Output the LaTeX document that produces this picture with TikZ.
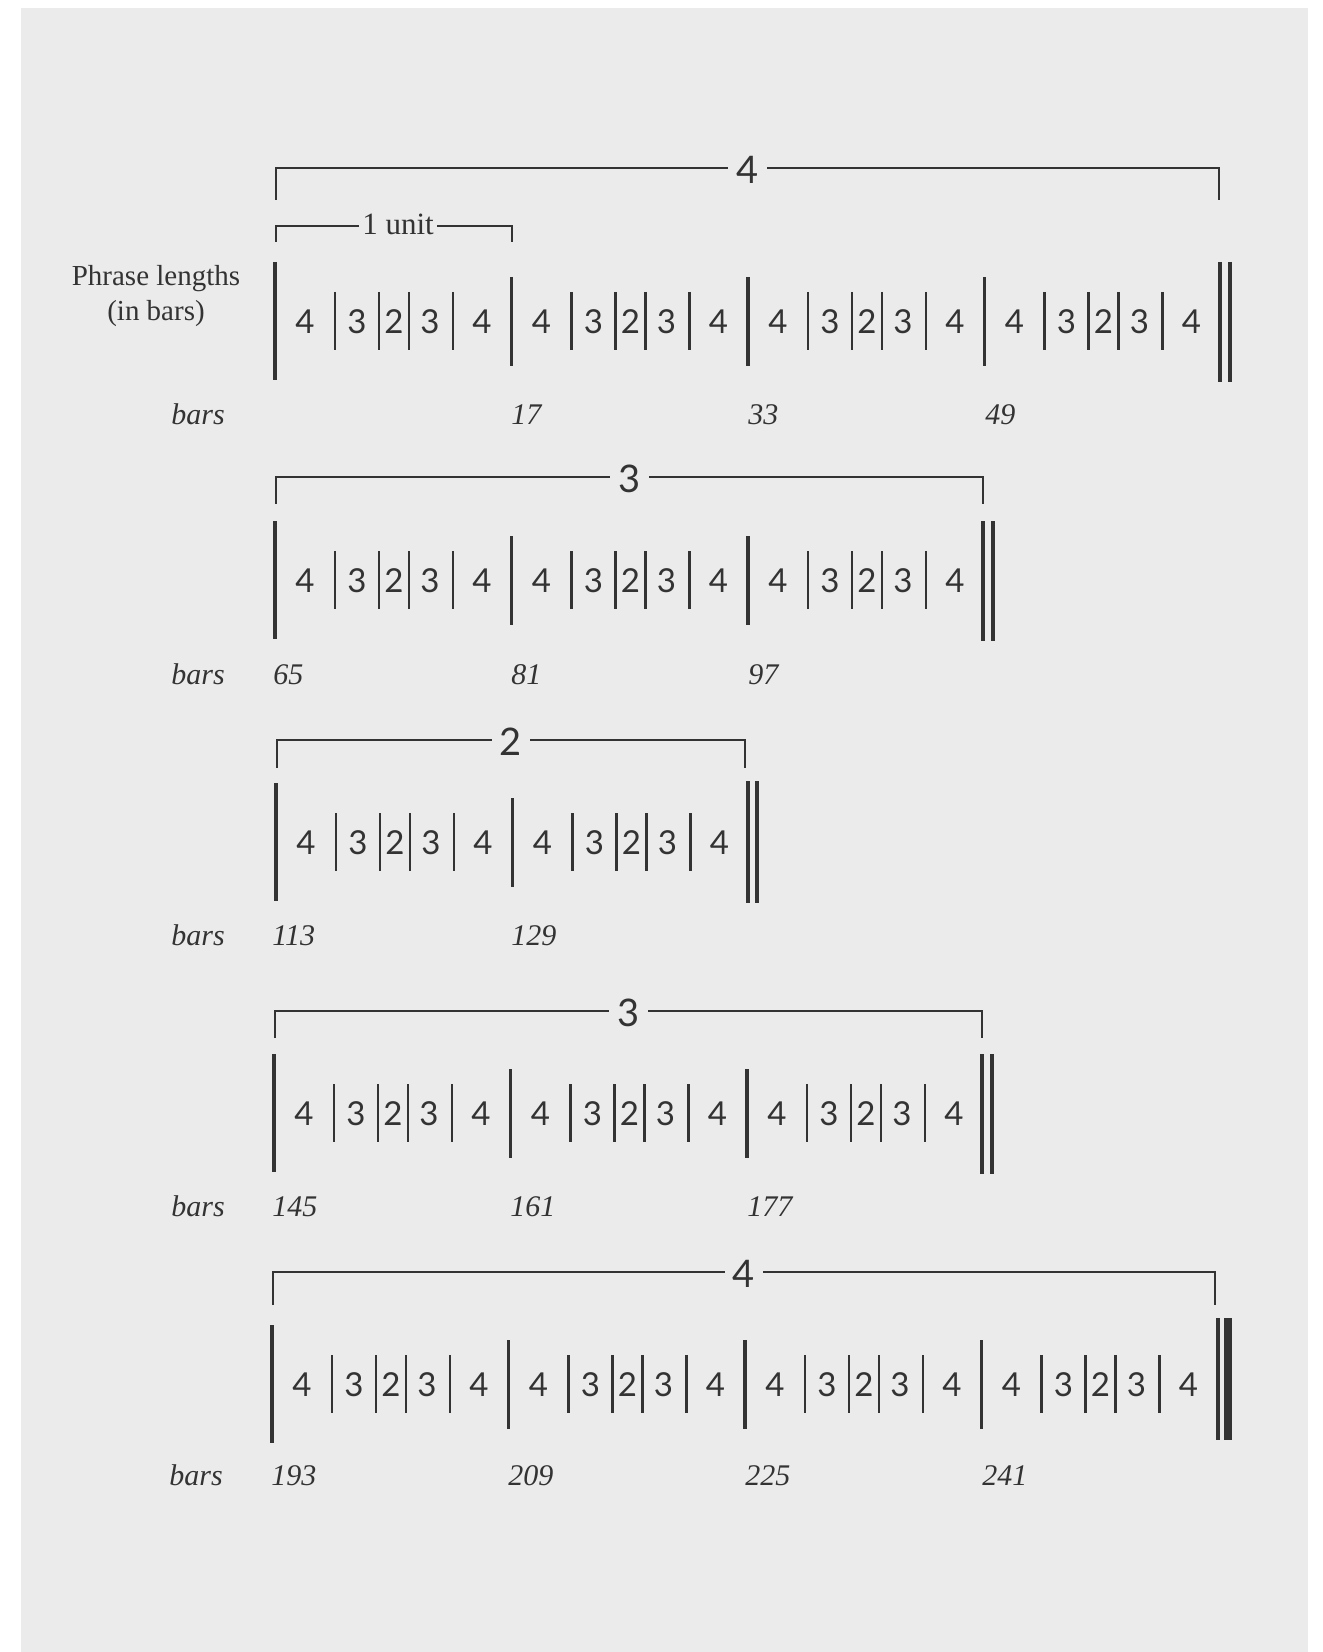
\documentclass[tikz,border=0pt]{standalone}
\usepackage{fontspec}
\setmainfont{Liberation Serif}
\newfontfamily\digfont{Lato}
\definecolor{bg}{HTML}{EBEBEB}
\definecolor{ink}{HTML}{333333}
\newcommand{\phraseunits}[4]{% #1 x origin, #2 centre y, #3 units, #4 id
  \foreach \u in {1,...,#3} {
    \pgfmathsetmacro{\ux}{#1+(\u-1)*236.5}
    \begin{scope}[shift={(\ux,#2)}]
      \ifnum\u=1
        \draw[majorbar] (0,-60) -- (0,58);
      \else
        \draw[majorbar] (0,-45) -- (0,44);
      \fi
      \node[dig] (d#4-\u-a) at (30,0) {4};
      \draw[minorbar] (60,-30) -- (60,28);
      \node[dig] (d#4-\u-b) at (82,0) {3};
      \draw[minorbar] (104,-30) -- (104,28);
      \node[dig] (d#4-\u-c) at (119,0) {2};
      \draw[minorbar] (134,-30) -- (134,28);
      \node[dig] (d#4-\u-d) at (155,0) {3};
      \draw[minorbar] (178,-30) -- (178,28);
      \node[dig] (d#4-\u-e) at (207,0) {4};
    \end{scope}
  }
}
\newcommand{\phrasebracket}[7]{% #1 x0, #2 x1, #3 top y, #4 tick, #5 label, #6 name, #7 style
  \draw[bracketline] (#1,#3+#4) -- (#1,#3) -- (#2,#3) -- (#2,#3+#4);
  \node[#7] (#6) at ({(#1+#2)/2},#3+2) {#5};
}
\begin{document}
\begin{tikzpicture}[x=0.5pt,y=-0.5pt,
  majorbar/.style={draw=ink,line width=1.7pt},
  minorbar/.style={draw=ink,line width=1.2pt},
  finalbar/.style={draw=ink,line width=1.6pt},
  thickbar/.style={draw=ink,line width=4pt},
  bracketline/.style={draw=ink,line width=1pt},
  dig/.style={font=\digfont\fontsize{16.5}{18}\selectfont,text=ink,inner sep=0pt},
  blabel/.style={font=\digfont\fontsize{19}{22}\selectfont,text=ink,fill=bg,inner xsep=4pt,inner ysep=1pt},
  ulabel/.style={font=\fontsize{15.5}{18}\selectfont,text=ink,fill=bg,inner xsep=1.5pt,inner ysep=1pt},
  barnum/.style={font=\itshape\fontsize{15}{17}\selectfont,text=ink,inner sep=0pt,anchor=base west},
  side/.style={font=\fontsize{14.5}{17.5}\selectfont,text=ink,align=center,inner sep=0pt},
]
\useasboundingbox (0,0) rectangle (1322,1652);
\fill[white] (0,0) rectangle (1322,1652);
\fill[bg] (21,8) rectangle (1308,1652);

% ---------- system 1 ----------
\node[side] (phrase) at (156,296) {Phrase lengths\\(in bars)};
\phrasebracket{276}{1219}{168}{32}{4}{b1}{blabel}
\draw[bracketline] (276,242) -- (276,226) -- (512,226) -- (512,242);
\node[ulabel] (unit) at (398,224) {1 unit};
\phraseunits{275}{322}{4}{s1}
\draw[finalbar] (1220,262) -- (1220,382);
\draw[finalbar] (1230,262) -- (1230,382);
\node[barnum] (bars1) at (171,425) {bars};
\node[barnum] (n17) at (511,425) {17};
\node[barnum] (n33) at (748,425) {33};
\node[barnum] (n49) at (985,425) {49};

% ---------- system 2 ----------
\phrasebracket{276}{983}{477}{27}{3}{b2}{blabel}
\phraseunits{275}{581}{3}{s2}
\draw[finalbar] (983,521) -- (983,641);
\draw[finalbar] (993,521) -- (993,641);
\node[barnum] (bars2) at (171,684) {bars};
\node[barnum] (n65) at (273,684) {65};
\node[barnum] (n81) at (511,684) {81};
\node[barnum] (n97) at (748,684) {97};

% ---------- system 3 ----------
\phrasebracket{277}{745}{740}{28}{2}{b3}{blabel}
\phraseunits{276}{843}{2}{s3}
\draw[finalbar] (748,781) -- (748,903);
\draw[finalbar] (757,781) -- (757,903);
\node[barnum] (bars3) at (171,945) {bars};
\node[barnum] (n113) at (272,945) {113};
\node[barnum] (n129) at (511,945) {129};

% ---------- system 4 ----------
\phrasebracket{275}{982}{1011}{27}{3}{b4}{blabel}
\phraseunits{274}{1114}{3}{s4}
\draw[finalbar] (982,1054) -- (982,1174);
\draw[finalbar] (992,1054) -- (992,1174);
\node[barnum] (bars4) at (171,1216) {bars};
\node[barnum] (n145) at (272,1216) {145};
\node[barnum] (n161) at (510,1216) {161};
\node[barnum] (n177) at (747,1216) {177};

% ---------- system 5 ----------
\phrasebracket{273}{1215}{1272}{33}{4}{b5}{blabel}
\phraseunits{272}{1385}{4}{s5}
\draw[finalbar] (1218,1318) -- (1218,1440);
\draw[thickbar] (1228,1318) -- (1228,1440);
\node[barnum] (bars5) at (169,1485) {bars};
\node[barnum] (n193) at (271,1485) {193};
\node[barnum] (n209) at (508,1485) {209};
\node[barnum] (n225) at (745,1485) {225};
\node[barnum] (n241) at (982,1485) {241};
\end{tikzpicture}
\end{document}
